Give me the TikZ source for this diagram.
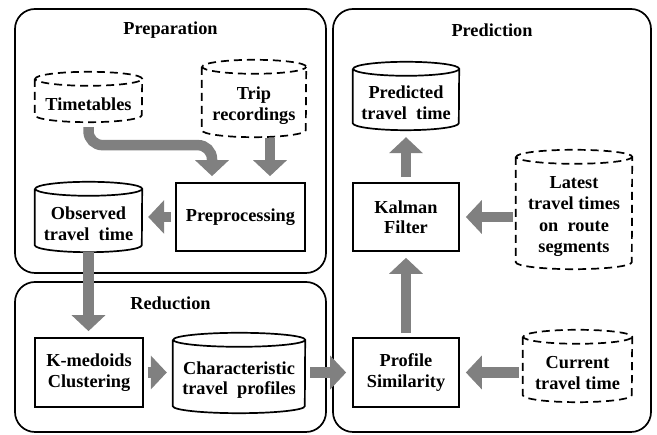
\documentclass[tikz,border=0pt]{standalone}
\usepackage{fontspec}
\setmainfont{Liberation Serif}
\usetikzlibrary{arrows.meta,calc}
\definecolor{arrowgray}{HTML}{808080}
\newcommand{\cylout}[4]{%
  \draw[#4] ([yshift=#3]#1.north west) -- ([yshift=#3]#1.south west)
    arc[start angle=180,end angle=360,x radius=#2,y radius=#3]
    -- ([yshift=#3]#1.north east)
    arc[start angle=0,end angle=360,x radius=#2,y radius=#3];}
\begin{document}
\begin{tikzpicture}[x=1pt,y=1pt,
  every node/.style={font=\fontsize{18.3}{20.5}\selectfont\bfseries, align=center, inner sep=0pt},
  groupbox/.style={draw, line width=1.7pt, rounded corners=20pt},
  procbox/.style={draw, line width=1.7pt},
  cylbody/.style={draw=none},
  cylsolid/.style={line width=1.7pt},
  cyldashed/.style={line width=1.7pt, dash pattern=on 8pt off 5pt},
  bigarrow/.style={draw=arrowgray, line width=10.5pt, -{Triangle[length=16pt,width=33pt]}, arrowgray}
]
\useasboundingbox (0,0) rectangle (657,435);
% group boxes
\draw[groupbox] (15,162) rectangle (326,426);
\draw[groupbox] (15,3) rectangle (326,153);
\draw[groupbox] (333,3) rectangle (651,426);
\node (tprep) at (170.5,405) {Preparation};
\node (tred) at (170.5,132) {Reduction};
\node (tpred) at (492,405) {Prediction};
% preparation
\node[cylbody, minimum width=107pt, minimum height=36pt] (tt) at (88.5,331) {Timetables};
\cylout{tt}{53.5pt}{7pt}{cyldashed}
\node[cylbody, minimum width=104pt, minimum height=63pt] (tr) at (254,329.5) {Trip\\recordings};
\cylout{tr}{52pt}{7pt}{cyldashed}
\node[cylbody, minimum width=107pt, minimum height=56pt] (ob) at (88.5,211) {Observed\\travel\ \ time};
\cylout{ob}{53.5pt}{7pt}{cylsolid}
\node[procbox, minimum width=129pt, minimum height=68pt] (pp) at (240.5,218) {Preprocessing};
% reduction
\node[procbox, minimum width=108pt, minimum height=69pt] (km) at (89,62.5) {K-medoids\\Clustering};
\node[cylbody, minimum width=132pt, minimum height=66pt] (ch) at (239,55) {Characteristic\\travel\ \ profiles};
\cylout{ch}{66pt}{7pt}{cylsolid}
% prediction
\node[cylbody, minimum width=106pt, minimum height=54pt] (pt) at (406,332) {Predicted\\travel\ \ time};
\cylout{pt}{53pt}{7pt}{cylsolid}
\node[procbox, minimum width=106pt, minimum height=68pt] (kf) at (406,218) {Kalman\\Filter};
\node[cylbody, minimum width=116pt, minimum height=105pt, font=\fontsize{18.3}{21.5}\selectfont\bfseries] (lt) at (574,218.5) {Latest\\travel times\\on\ \ route\\segments};
\cylout{lt}{58pt}{7pt}{cyldashed}
\node[procbox, minimum width=106pt, minimum height=69pt] (ps) at (406,62.5) {Profile\\Similarity};
\node[cylbody, minimum width=109pt, minimum height=58pt] (ct) at (577.5,62) {Current\\travel time};
\cylout{ct}{54.5pt}{7pt}{cyldashed}
% arrows
\draw[bigarrow, rounded corners=14pt, shorten <=5pt, shorten >=6pt]
  (tt.south) |- ([xshift=-28.5pt,yshift=37pt]pp.north) -- ([xshift=-28.5pt]pp.north);
\draw[bigarrow, shorten <=1pt, shorten >=6pt] ([xshift=16pt]tr.south) -- ([xshift=29.5pt]pp.north);
\draw[bigarrow, shorten <=4pt, shorten >=6pt] (pp.west) -- (pp.west -| ob.east);
\draw[bigarrow, shorten <=0pt, shorten >=6pt] (ob.south) -- (ob.south |- km.north);
\draw[bigarrow, shorten <=4pt, shorten >=6pt] (km.east) -- (km.east -| ch.west);
\draw[bigarrow, shorten <=5pt, shorten >=6pt] (ch.east |- ps.west) -- (ps.west);
\draw[bigarrow, shorten <=4pt, shorten >=6pt] (ct.west |- ps.east) -- (ps.east);
\draw[bigarrow, shorten <=3pt, shorten >=6pt] (lt.west |- kf.east) -- (kf.east);
\draw[bigarrow, shorten <=4pt, shorten >=6pt] (ps.north) -- (kf.south);
\draw[bigarrow, shorten <=5pt, shorten >=7pt] (kf.north) -- (pt.south);
\end{tikzpicture}
\end{document}
